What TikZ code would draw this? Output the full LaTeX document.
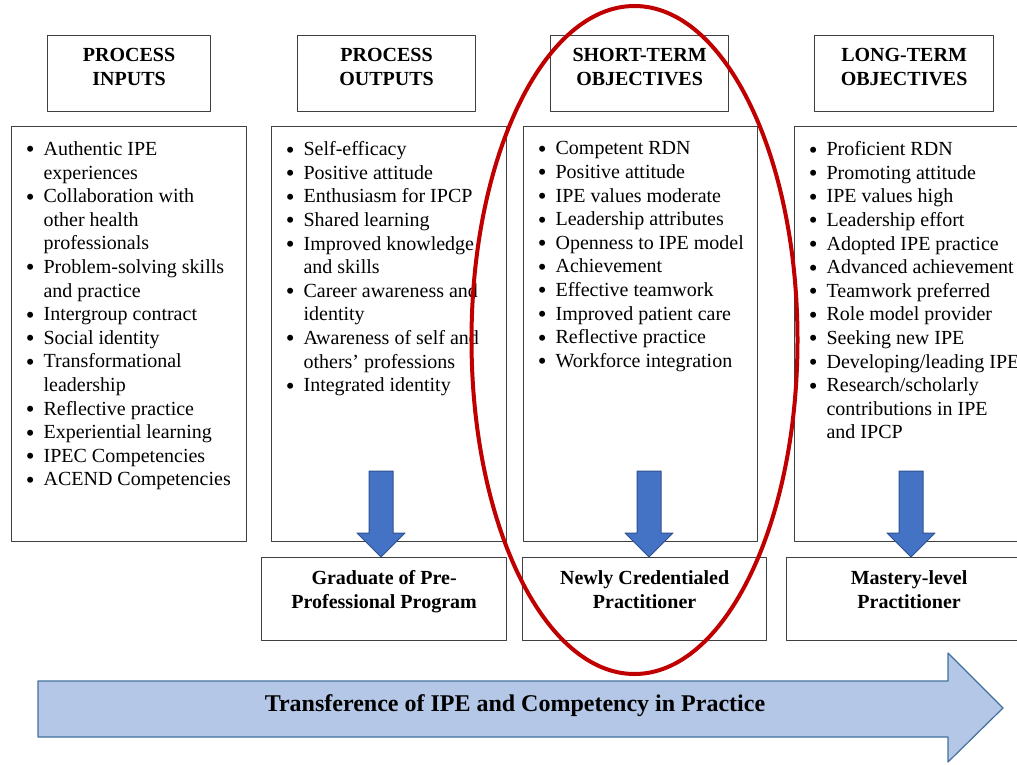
\documentclass[tikz,border=0pt]{standalone}
\usepackage{fontspec}
\setmainfont{Liberation Serif}
\usetikzlibrary{calc}

\definecolor{arrowblue}{HTML}{4472C4}
\definecolor{arrowedge}{HTML}{2F528F}
\definecolor{bandfill}{HTML}{B4C7E7}
\definecolor{bandedge}{HTML}{41719C}
\definecolor{ringred}{HTML}{C00000}

% Tight bullet list for the column boxes.
\newcommand{\dotmark}{\raisebox{-1.2pt}{\fontsize{12.5}{12}\selectfont\textbullet}}
\newenvironment{dotlist}{\begin{list}{\dotmark}{%
  \setlength{\leftmargin}{10pt}\setlength{\labelsep}{4.5pt}%
  \setlength{\labelwidth}{5.5pt}\setlength{\itemsep}{0pt}%
  \setlength{\parsep}{0pt}\setlength{\topsep}{0pt}%
  \setlength{\partopsep}{0pt}\raggedright}}{\end{list}}

\begin{document}
\begin{tikzpicture}[x=.5pt,y=-.5pt,line cap=round,line join=round,
  headbox/.style={draw=black!75,line width=.6pt,anchor=north west,
    inner xsep=2pt,inner ysep=6.5pt,font=\bfseries\fontsize{10}{12}\selectfont},
  listbox/.style={draw=black!75,line width=.6pt,anchor=north west,
    inner xsep=6pt,inner ysep=7.5pt,font=\fontsize{10}{11.8}\selectfont},
  levelbox/.style={draw=black!75,line width=.6pt,anchor=north west,
    inner xsep=2pt,inner ysep=6.5pt,font=\bfseries\fontsize{10}{11.8}\selectfont},
  blockarrow/.style={fill=arrowblue,draw=arrowedge,line width=.5pt},
  band/.style={fill=bandfill,draw=bandedge,line width=.6pt},
  ring/.style={draw=ringred,line width=2pt}]
  \useasboundingbox (0,0) rectangle (1017,765);
  \fill[white] (0,0) rectangle (1017,765);

  % Column headings.
  \node[headbox] (inputs) at (47,35)
    {\parbox[c][25pt][t]{77.5pt}{\centering PROCESS\\INPUTS}};
  \node[headbox] (outputs) at (297,35)
    {\parbox[c][25pt][t]{85pt}{\centering PROCESS\\OUTPUTS}};
  \node[headbox] (short) at (550,35)
    {\parbox[c][25pt][t]{85pt}{\centering SHORT-TERM\\OBJECTIVES}};
  \node[headbox] (long) at (814,35)
    {\parbox[c][25pt][t]{85.5pt}{\centering LONG-TERM\\OBJECTIVES}};

  % Bullet lists.
  \node[listbox] (inlist) at (11,126) {\parbox[c][192.5pt][t]{105.5pt}{%
    \begin{dotlist}
      \item Authentic IPE\\experiences
      \item Collaboration with\\other health\\professionals
      \item Problem-solving skills\\and practice
      \item Intergroup contract
      \item Social identity
      \item Transformational\\leadership
      \item Reflective practice
      \item Experiential learning
      \item IPEC Competencies
      \item ACEND Competencies
    \end{dotlist}}};
  \node[listbox] (outlist) at (271,126) {\parbox[c][192.5pt][t]{105.5pt}{%
    \begin{dotlist}
      \item Self-efficacy
      \item Positive attitude
      \item Enthusiasm for IPCP
      \item Shared learning
      \item Improved knowledge\\and skills
      \item Career awareness and\\identity
      \item Awareness of self and\\others’ professions
      \item Integrated identity
    \end{dotlist}}};
  \node[listbox] (shortlist) at (523,126) {\parbox[c][192.5pt][t]{105pt}{%
    \begin{dotlist}
      \item Competent RDN
      \item Positive attitude
      \item IPE values moderate
      \item Leadership attributes
      \item Openness to IPE model
      \item Achievement
      \item Effective teamwork
      \item Improved patient care
      \item Reflective practice
      \item Workforce integration
    \end{dotlist}}};
  \node[listbox] (longlist) at (794,126) {\parbox[c][192.5pt][t]{115pt}{%
    \begin{dotlist}
      \item Proficient RDN
      \item Promoting attitude
      \item IPE values high
      \item Leadership effort
      \item Adopted IPE practice
      \item Advanced achievement
      \item Teamwork preferred
      \item Role model provider
      \item Seeking new IPE
      \item Developing/leading IPE
      \item Research/scholarly\\contributions in IPE\\and IPCP
    \end{dotlist}}};

  % Practitioner levels.
  \node[levelbox] (grad) at (261,557)
    {\parbox[c][28.5pt][t]{118.5pt}{\centering Graduate of Pre-\\Professional Program}};
  \node[levelbox] (newly) at (522,557)
    {\parbox[c][28.5pt][t]{118pt}{\centering Newly Credentialed\\Practitioner}};
  \node[levelbox] (mastery) at (786,557)
    {\parbox[c][28.5pt][t]{118.5pt}{\centering Mastery-level\\Practitioner}};

  % Down arrows into each level.
  \foreach \tx/\target in {381/grad,649/newly,911/mastery}{
    \coordinate (tip) at (\tx,0 |- \target.north);
    \draw[blockarrow] (tip) ++(-12,-86) -- ++(24,0) -- ++(0,62) -- ++(12,0)
      -- (tip) -- ++(-24,-24) -- ++(12,0) -- cycle;
  }

  % Transference band.
  \draw[band] (38,681) -- (948,681) -- (948,653) -- (1003,708)
    -- (948,762) -- (948,737) -- (38,737) -- cycle;
  \node[font=\bfseries\fontsize{12}{14}\selectfont] (transfer) at (515,706)
    {Transference of IPE and Competency in Practice};

  % Highlight round the short-term column.
  \draw[ring] (634.5,340) ellipse [x radius=163,y radius=334];
\end{tikzpicture}
\end{document}
